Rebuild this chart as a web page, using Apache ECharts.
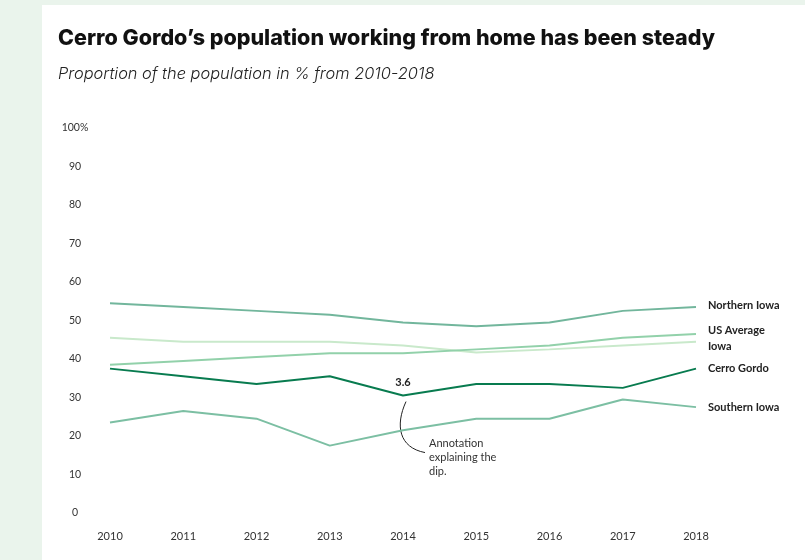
<!DOCTYPE html>
<html>
<head>
<meta charset="utf-8">
<script src="https://cdn.jsdelivr.net/npm/echarts@6/dist/echarts.min.js"></script>
<style>
  html, body { margin: 0; padding: 0; background: #eaf4ec; }
  #card { position: absolute; left: 42px; top: 5px; width: 763px; height: 555px; background: #ffffff; }
  #chart { position: absolute; left: 0; top: 0; width: 805px; height: 560px; }
</style>
</head>
<body>
<div id="card"></div>
<div id="chart"></div>
<script>
// Share of population working from home, 2010-2018 (%)
const years = ['2010', '2011', '2012', '2013', '2014', '2015', '2016', '2017', '2018'];
const northernIowa = [54.5, 53.5, 52.5, 51.5, 49.5, 48.5, 49.5, 52.5, 53.5];
const usAverage    = [38.5, 39.5, 40.5, 41.5, 41.5, 42.5, 43.5, 45.5, 46.5];
const iowa         = [45.5, 44.5, 44.5, 44.5, 43.5, 41.7, 42.5, 43.5, 44.5];
const cerroGordo   = [37.5, 35.5, 33.5, 35.5, 30.5, 33.5, 33.5, 32.5, 37.5];
const southernIowa = [23.5, 26.5, 24.5, 17.5, 21.5, 24.5, 24.5, 29.5, 27.5];

// Callout on the 2014 dip
const noteYear = '2014';
const noteLabel = '3.6';
const noteText = 'Annotation\nexplaining the\ndip.';

const chart = echarts.init(document.getElementById('chart'), null, { renderer: 'canvas' });

function line(name, data, color, z, labelOffset) {
  return {
    name: name,
    type: 'line',
    data: data,
    z: z,
    symbol: 'none',
    smooth: false,
    lineStyle: { color: color, width: 2 },
    endLabel: {
      show: true,
      formatter: '{a}',
      color: '#222',
      fontFamily: 'Lato',
      fontWeight: 'bold',
      fontSize: 11,
      distance: 12,
      offset: labelOffset || [0, 0]
    },
    emphasis: { disabled: true }
  };
}

const option = {
  animation: false,
  textStyle: { fontFamily: 'Lato' },
  title: [
    {
      text: 'Cerro Gordo\u2019s population working from home has been steady',
      left: 58, top: 28, padding: 0,
      textStyle: { fontFamily: 'Inter', fontWeight: 800, fontSize: 21.5, color: '#111' }
    },
    {
      text: 'Proportion of the population in % from 2010-2018',
      left: 58, top: 66, padding: 0,
      textStyle: { fontFamily: 'Inter', fontStyle: 'italic', fontWeight: 300, fontSize: 16.4, color: '#222' }
    }
  ],
  grid: { left: 110, right: 109, top: 128, bottom: 47, containLabel: false },
  xAxis: {
    type: 'category',
    data: years,
    boundaryGap: false,
    axisLine: { show: false },
    axisTick: { show: false },
    axisLabel: { color: '#333', fontSize: 11, margin: 18, fontFamily: 'Lato' }
  },
  yAxis: {
    type: 'value',
    min: 0, max: 100, interval: 10,
    splitLine: { show: false },
    axisLine: { show: false },
    axisTick: { show: false },
    axisLabel: {
      color: '#333', fontSize: 10.5, margin: 35, align: 'center', fontFamily: 'Lato',
      formatter: v => (v === 100 ? '100%' : String(v))
    }
  },
  series: [
    line('Northern Iowa', northernIowa, '#72b69c', 2, [0, -2]),
    line('Iowa', iowa, '#c9e9cb', 1, [0, 5]),
    line('US Average', usAverage, '#92d1aa', 2, [0, -4]),
    line('Southern Iowa', southernIowa, '#7cbfa3', 2),
    line('Cerro Gordo', cerroGordo, '#087b4f', 3)
  ]
};

chart.setOption(option);

// Callout: value text above the dip and a curved leader to the note
const idx = years.indexOf(noteYear);
const p = chart.convertToPixel({ gridIndex: 0 }, [idx, cerroGordo[idx]]);
chart.setOption({
  graphic: [
    {
      type: 'text',
      x: p[0], y: p[1] - 13,
      style: {
        text: noteLabel, fill: '#222', fontFamily: 'Lato', fontWeight: 'bold', fontSize: 11,
        align: 'center', verticalAlign: 'middle'
      }
    },
    {
      type: 'bezierCurve',
      shape: {
        x1: p[0] + 3, y1: p[1] + 6,
        x2: p[0] + 22, y2: p[1] + 57,
        cpx1: p[0] - 8, cpy1: p[1] + 30,
        cpx2: p[0] - 4, cpy2: p[1] + 52
      },
      style: { stroke: '#222', lineWidth: 1, fill: null }
    },
    {
      type: 'text',
      x: p[0] + 26, y: p[1] + 41,
      style: {
        text: noteText, fill: '#333', fontFamily: 'Lato', fontSize: 11, lineHeight: 14,
        align: 'left', verticalAlign: 'top'
      }
    }
  ]
});
</script>
</body>
</html>
